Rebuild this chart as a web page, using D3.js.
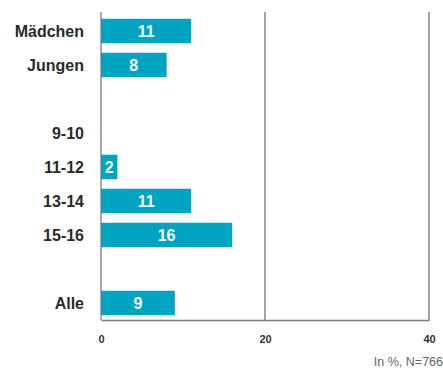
<!DOCTYPE html>
<html>
<head>
<meta charset="utf-8">
<script src="https://cdn.jsdelivr.net/npm/d3@7"></script>
<style>
  html, body { margin: 0; padding: 0; background: #fff; }
  svg { display: block; }
</style>
</head>
<body>
<svg id="chart" width="443" height="371"></svg>
<script>
// Row labels (blank entries are spacer rows between groups)
const categories = ["Mädchen", "Jungen", "", "9-10", "11-12", "13-14", "15-16", " ", "Alle"];
const values = [11, 8, null, null, 2, 11, 16, null, 9];
const tickValues = [0, 20, 40];
const note = "In %, N=766";

const font = "'Liberation Sans', Arial, sans-serif";
const svg = d3.select("#chart");
const plotLeft = 101, plotRight = 429, plotTop = 12, plotBottom = 320;

const x = d3.scaleLinear().domain([0, 40]).range([plotLeft, plotRight]);
const y = d3.scaleBand().domain(categories).range([plotTop + 2, plotBottom]).paddingInner(0.28).paddingOuter(0.14);

// vertical gridlines at 20 and 40
svg.append("g").selectAll("line")
  .data(tickValues.filter(d => d > 0))
  .join("line")
  .attr("x1", d => x(d)).attr("x2", d => x(d))
  .attr("y1", plotTop).attr("y2", plotBottom)
  .attr("stroke", "#707070").attr("stroke-width", 1.3);

// bottom axis with tick labels
const xAxis = d3.axisBottom(x).tickValues(tickValues).tickSize(0).tickPadding(15);
const gx = svg.append("g").attr("transform", `translate(0,${plotBottom})`).call(xAxis);
gx.select(".domain").attr("stroke", "#7a7a7a").attr("stroke-width", 1.3);
gx.selectAll("text")
  .attr("font-family", font)
  .attr("font-size", 11).attr("font-weight", "bold").attr("fill", "#333");

// bars
const rows = categories.map((c, i) => ({ c, v: values[i] })).filter(d => d.v !== null);
svg.append("g").selectAll("rect")
  .data(rows)
  .join("rect")
  .attr("x", x(0))
  .attr("y", d => y(d.c))
  .attr("width", d => x(d.v) - x(0))
  .attr("height", y.bandwidth())
  .attr("fill", "#00a4c0");

// value labels inside bars
svg.append("g").selectAll("text")
  .data(rows)
  .join("text")
  .attr("x", d => (x(0) + x(d.v)) / 2)
  .attr("y", d => y(d.c) + y.bandwidth() / 2)
  .attr("dy", "0.36em")
  .attr("text-anchor", "middle")
  .attr("font-family", font)
  .attr("font-size", 16).attr("font-weight", "bold")
  .attr("fill", "#f4fbfc")
  .text(d => d.v);

// left axis line
svg.append("line")
  .attr("x1", x(0)).attr("x2", x(0))
  .attr("y1", plotTop).attr("y2", plotBottom)
  .attr("stroke", "#7a7a7a").attr("stroke-width", 1.3);

// category labels
svg.append("g").selectAll("text")
  .data(categories.filter(c => c.trim() !== ""))
  .join("text")
  .attr("x", 84)
  .attr("y", d => y(d) + y.bandwidth() / 2)
  .attr("dy", "0.36em")
  .attr("text-anchor", "end")
  .attr("font-family", font)
  .attr("font-size", 16).attr("font-weight", "bold")
  .attr("fill", "#2a2a2a")
  .text(d => d);

// source note
svg.append("text")
  .attr("x", 443).attr("y", 366)
  .attr("text-anchor", "end")
  .attr("font-family", font)
  .attr("font-size", 12.5)
  .attr("fill", "#666")
  .text(note);
</script>
</body>
</html>
